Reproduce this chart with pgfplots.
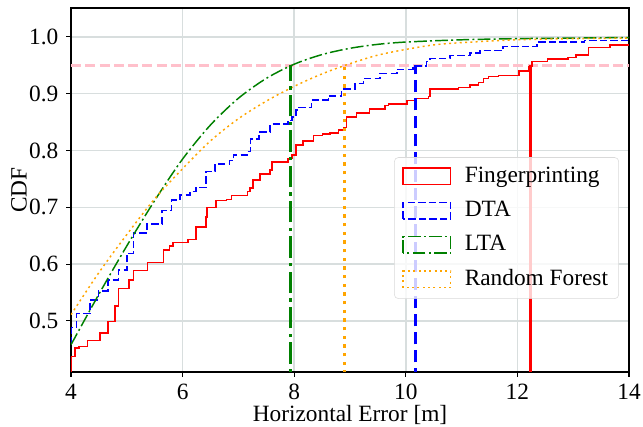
\documentclass[border=0pt]{standalone}
\usepackage{fontspec}
\setmainfont{Liberation Serif}
\usepackage{pgfplots}
\pgfplotsset{compat=1.18}
\definecolor{cfp}{RGB}{255,0,0}
\definecolor{cdta}{RGB}{0,0,255}
\definecolor{clta}{RGB}{0,128,0}
\definecolor{crf}{RGB}{255,165,0}
\definecolor{cpink}{RGB}{255,192,203}
\definecolor{cgrid}{RGB}{216,222,222}
\begin{document}
\fontsize{17.5}{21}\selectfont
\begin{tikzpicture}
\useasboundingbox (-53.25pt,-41.25pt) rectangle (429pt,279pt);
\begin{axis}[
  at={(0pt,0pt)}, anchor=south west,
  scale only axis, width=418.5pt, height=273pt,
  xmin=4, xmax=14, ymin=0.41, ymax=1.051,
  xtick={4,6,8,10,12,14},
  ytick={0.5,0.6,0.7,0.8,0.9,1.0},
  yticklabel style={/pgf/number format/.cd, fixed, fixed zerofill, precision=1},
  xticklabel style={inner ysep=1pt, yshift=-4.5pt},
  /pgf/number format/assume math mode=true,
  tick label style={font=\fontsize{17.5}{21}\selectfont},
  label style={font=\fontsize{17.5}{21}\selectfont},
  xlabel={Horizontal Error [m]},
  ylabel={CDF},
  xlabel style={at={(axis description cs:0.5,-0.137)}, anchor=base, inner sep=0pt},
  ylabel style={at={(axis description cs:-0.0797,0.5)}, anchor=base, inner sep=0pt},
  tick align=outside, xtick pos=bottom, ytick pos=left,
  major tick length=3.5pt,
  every tick/.style={black, line width=0.8pt},
  axis line style={black, line width=0.8pt},
  grid=major,
  major grid style={cgrid, line width=1.1pt},
  legend image code/.code={\draw[#1, sharp corners] (0pt,-6.2pt) rectangle (35.7pt,6.2pt);},
  legend cell align=left,
  legend style={at={(0.982,0.59)}, anchor=north east,
    font=\fontsize{17.5}{21}\selectfont,
    fill=white, fill opacity=0.8, text opacity=1, draw opacity=1,
    draw=black!15, rounded corners=3pt, row sep=7.5pt,
    inner xsep=6pt, inner ysep=5pt,
    /tikz/every odd column/.append style={column sep=8pt}},
]
% threshold
\addplot[cpink, line width=1.8pt, dash pattern=on 7.5pt off 3.2pt, forget plot] coordinates {(4,0.95) (14,0.95)};

\addplot[cfp, line width=1.1pt, const plot] coordinates {
(3.99,0.0) (4.00,0.437) (4.07,0.452) (4.14,0.455) (4.30,0.465) (4.52,0.479)
(4.66,0.499) (4.79,0.526) (4.85,0.557) (5.04,0.572) (5.12,0.589) (5.37,0.603)
(5.66,0.625) (5.77,0.632) (5.83,0.638) (6.10,0.643) (6.24,0.665) (6.42,0.683)
(6.44,0.700) (6.60,0.712) (6.79,0.714) (6.88,0.721) (7.16,0.728) (7.21,0.734)
(7.26,0.748) (7.39,0.759) (7.57,0.766) (7.60,0.780) (7.89,0.786) (7.96,0.792)
(8.03,0.810) (8.16,0.817) (8.35,0.826) (8.51,0.829) (8.64,0.831) (8.79,0.836)
(8.88,0.841) (8.94,0.859) (9.12,0.866) (9.35,0.873) (9.63,0.879) (9.69,0.882)
(10.02,0.888) (10.18,0.892) (10.41,0.895) (10.43,0.908) (10.94,0.911) (11.15,0.915)
(11.30,0.920) (11.39,0.927) (11.48,0.930) (11.66,0.932) (12.03,0.940) (12.21,0.948)
(12.26,0.957) (12.54,0.961) (12.91,0.964) (13.05,0.968) (13.27,0.981) (13.66,0.986)
(14.00,0.986)};
\addlegendentry{Fingerprinting}

\addplot[cdta, line width=1.1pt, const plot, dash pattern=on 5.5pt off 2.4pt] coordinates {
(3.99,0.461) (4.01,0.488) (4.10,0.513) (4.34,0.537) (4.49,0.553) (4.66,0.572)
(4.85,0.590) (5.00,0.619) (5.12,0.655) (5.36,0.671) (5.63,0.694) (5.80,0.713)
(5.95,0.722) (6.13,0.728) (6.24,0.735) (6.42,0.763) (6.58,0.776) (6.84,0.782)
(6.91,0.792) (7.15,0.798) (7.22,0.820) (7.37,0.833) (7.57,0.847) (7.89,0.853)
(7.96,0.859) (8.03,0.871) (8.07,0.876) (8.31,0.889) (8.61,0.896) (8.85,0.908)
(9.09,0.918) (9.24,0.927) (9.54,0.936) (9.84,0.943) (10.13,0.949) (10.37,0.957)
(10.43,0.962) (10.79,0.967) (11.15,0.972) (11.33,0.976) (11.74,0.983) (12.35,0.991)
(13.20,0.994) (14.00,0.995)};
\addlegendentry{DTA}

\addplot[clta, line width=1.1pt, smooth, dash pattern=on 9.6pt off 2.4pt on 1.5pt off 2.4pt] coordinates {
(4.0,0.458) (4.5,0.547) (5.0,0.632) (5.5,0.712) (6.0,0.785) (6.5,0.845)
(7.0,0.892) (7.5,0.927) (8.0,0.952) (8.5,0.969) (9.0,0.980) (9.5,0.987)
(10.0,0.991) (11.0,0.995) (12.0,0.997) (13.0,0.998) (14.0,0.999)};
\addlegendentry{LTA}

\addplot[crf, line width=1.1pt, smooth, dash pattern=on 1.5pt off 2.5pt] coordinates {
(4.0,0.511) (4.5,0.585) (5.0,0.652) (5.5,0.715) (6.0,0.768) (6.5,0.817)
(7.0,0.856) (7.5,0.887) (8.0,0.913) (8.5,0.935) (9.0,0.953) (9.5,0.968)
(10.0,0.978) (10.5,0.986) (11.0,0.990) (12.0,0.995) (13.0,0.997) (14.0,0.998)};
\addlegendentry{Random Forest}

% 95th percentile markers
\addplot[cfp, line width=2.2pt, forget plot] coordinates {(12.23,0.3) (12.23,0.95)};
\addplot[cdta, line width=2.2pt, dash pattern=on 9.5pt off 4pt, forget plot] coordinates {(10.18,0.3) (10.18,0.95)};
\addplot[clta, line width=2.2pt, dash pattern=on 16pt off 4pt on 2.5pt off 4pt, forget plot] coordinates {(7.93,0.3) (7.93,0.95)};
\addplot[crf, line width=2.2pt, dash pattern=on 2.5pt off 4pt, forget plot] coordinates {(8.90,0.3) (8.90,0.95)};
\end{axis}
\end{tikzpicture}
\end{document}
